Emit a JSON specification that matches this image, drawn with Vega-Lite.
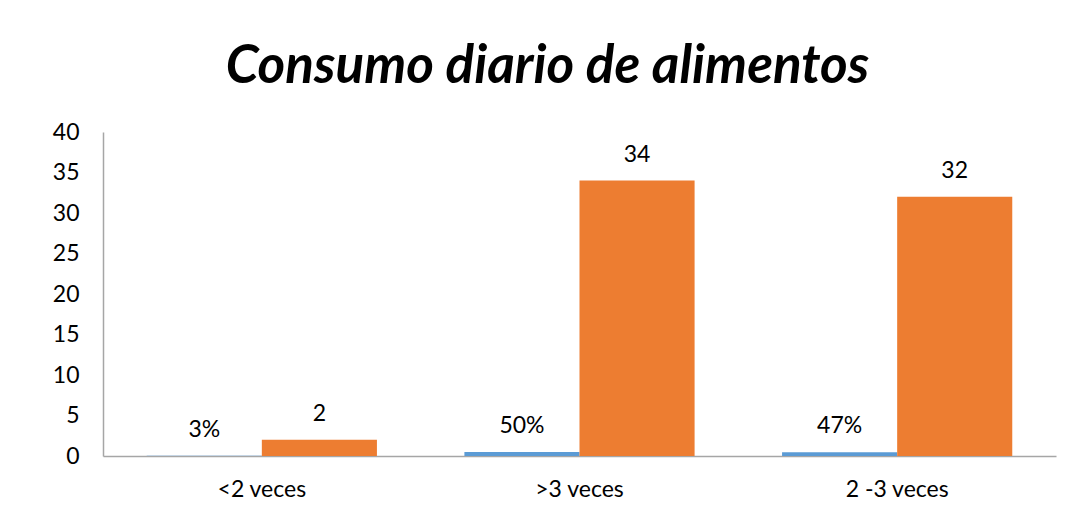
{
  "$schema": "https://vega.github.io/schema/vega-lite/v6.json",
  "autosize": {"type": "none"},
  "width": 953,
  "height": 324,
  "padding": {"left": 103, "top": 132, "right": 18, "bottom": 73},
  "background": "white",
  "title": {
    "text": "Consumo diario de alimentos",
    "font": "Lato",
    "fontSize": 53,
    "fontWeight": "bold",
    "fontStyle": "italic",
    "color": "#000000",
    "anchor": "middle",
    "frame": "group",
    "dx": -32,
    "baseline": "alphabetic",
    "offset": -15
  },
  "data": {
    "values": [
      {"categoria": "<2 veces", "serie": "Porcentaje", "valor": 0.03, "etiqueta": "3%"},
      {"categoria": "<2 veces", "serie": "Frecuencia", "valor": 2, "etiqueta": "2"},
      {"categoria": ">3 veces", "serie": "Porcentaje", "valor": 0.5, "etiqueta": "50%"},
      {"categoria": ">3 veces", "serie": "Frecuencia", "valor": 34, "etiqueta": "34"},
      {"categoria": "2 -3 veces", "serie": "Porcentaje", "valor": 0.47, "etiqueta": "47%"},
      {"categoria": "2 -3 veces", "serie": "Frecuencia", "valor": 32, "etiqueta": "32"}
    ]
  },
  "encoding": {
    "x": {
      "field": "categoria",
      "type": "nominal",
      "sort": ["<2 veces", ">3 veces", "2 -3 veces"],
      "scale": {"paddingInner": 0, "paddingOuter": 0},
      "axis": {
        "title": null,
        "labelAngle": 0,
        "labelFont": "Lato",
        "labelFontSize": 23,
        "labelColor": "#000000",
        "labelPadding": 22,
        "ticks": false,
        "domainColor": "#a6a6a6",
        "domainWidth": 1.5,
        "grid": false
      }
    },
    "xOffset": {
      "field": "serie",
      "type": "nominal",
      "sort": ["Porcentaje", "Frecuencia"],
      "scale": {"paddingInner": 0, "paddingOuter": 0.38}
    },
    "y": {
      "field": "valor",
      "type": "quantitative",
      "scale": {"domain": [0, 40], "nice": false},
      "axis": {
        "title": null,
        "values": [0, 5, 10, 15, 20, 25, 30, 35, 40],
        "labelFont": "Lato",
        "labelFontSize": 23,
        "labelColor": "#000000",
        "labelPadding": 24,
        "ticks": false,
        "grid": false,
        "domainColor": "#a6a6a6",
        "domainWidth": 1.5
      }
    }
  },
  "layer": [
    {
      "mark": {"type": "bar"},
      "encoding": {
        "color": {
          "field": "serie",
          "type": "nominal",
          "scale": {"domain": ["Porcentaje", "Frecuencia"], "range": ["#5b9bd5", "#ed7d31"]},
          "legend": null
        }
      }
    },
    {
      "mark": {"type": "text", "font": "Lato", "fontSize": 23, "color": "#000000", "baseline": "middle", "dy": -26},
      "encoding": {
        "text": {"field": "etiqueta", "type": "nominal"}
      }
    }
  ],
  "config": {
    "view": {"stroke": null}
  }
}
